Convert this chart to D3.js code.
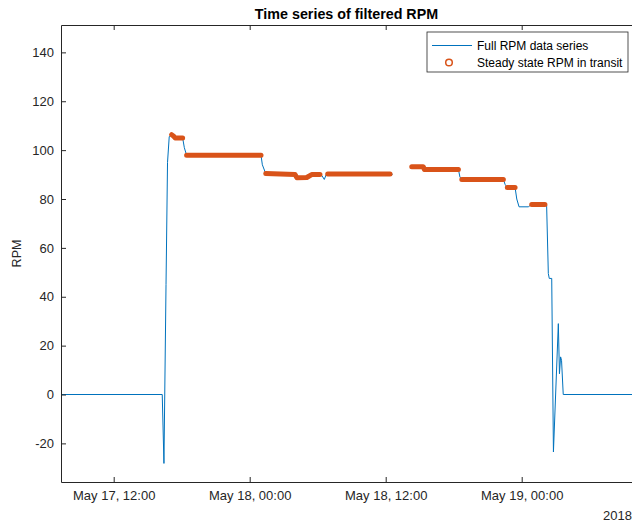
<!DOCTYPE html>
<html>
<head>
<meta charset="utf-8">
<script src="https://cdn.jsdelivr.net/npm/d3@7"></script>
<style>
body { margin: 0; background: #fff; }
svg { font-family: "Liberation Sans", Arial, sans-serif; }
</style>
</head>
<body>
<svg id="chart" width="632" height="523"></svg>
<script>
// full RPM data series (null = no data logged)
var rpmTimes = [
	"2018-05-17 07:21", "2018-05-17 16:17", "2018-05-17 16:26", "2018-05-17 16:37", "2018-05-17 16:45",
	"2018-05-17 16:54", "2018-05-17 17:07", "2018-05-17 17:18", "2018-05-17 17:25", "2018-05-17 18:05",
	"2018-05-17 18:14", "2018-05-17 18:26", "2018-05-18 01:00", "2018-05-18 01:07", "2018-05-18 01:25",
	"2018-05-18 04:00", "2018-05-18 04:10", "2018-05-18 05:02", "2018-05-18 05:28", "2018-05-18 06:12",
	"2018-05-18 06:22", "2018-05-18 06:35", "2018-05-18 06:45", "2018-05-18 06:53", "2018-05-18 12:23",
	"2018-05-18 12:37", "2018-05-18 13:30", "2018-05-18 14:18", "2018-05-18 15:19", "2018-05-18 15:25",
	"2018-05-18 18:25", "2018-05-18 18:33", "2018-05-18 18:43", "2018-05-18 22:23", "2018-05-18 22:32",
	"2018-05-18 22:44", "2018-05-18 23:25", "2018-05-18 23:34", "2018-05-18 23:46", "2018-05-19 00:35",
	"2018-05-19 00:53", "2018-05-19 02:03", "2018-05-19 02:12", "2018-05-19 02:21", "2018-05-19 02:26",
	"2018-05-19 02:39", "2018-05-19 02:48", "2018-05-19 03:14", "2018-05-19 03:20", "2018-05-19 03:26",
	"2018-05-19 03:31", "2018-05-19 03:40", "2018-05-19 09:44"
];
var rpmValues = [
	0, 0, -28.2, 45, 95,
	105.5, 106.3, 105.6, 105, 105,
	101, 97.9, 97.9, 94, 90.4,
	90, 88.7, 88.8, 90, 90,
	89.6, 88, 90, 90.2, 90.2,
	90.1, null, 93.2, 93.2, 92.1,
	92.1, 89, 88, 88, 86,
	84.7, 84.7, 80, 76.8, 76.8,
	77.8, 77.8, 77.5, 49.5, 47.5,
	47.5, -23.5, 29, 8.5, 15.4,
	14, 0, 0
];

// steady state RPM in transit (null separates stretches)
var steadyTimes = [
	"2018-05-17 17:07", "2018-05-17 17:16", "2018-05-17 17:25", "2018-05-17 18:05", null,
	"2018-05-17 18:26", "2018-05-18 01:00", null,
	"2018-05-18 01:25", "2018-05-18 04:00", "2018-05-18 04:10", "2018-05-18 05:02", "2018-05-18 05:28", "2018-05-18 06:12", null,
	"2018-05-18 06:53", "2018-05-18 12:23", null,
	"2018-05-18 14:18", "2018-05-18 15:19", "2018-05-18 15:25", "2018-05-18 18:25", null,
	"2018-05-18 18:43", "2018-05-18 22:23", null,
	"2018-05-18 22:44", "2018-05-18 23:25", null,
	"2018-05-19 00:53", "2018-05-19 02:03"
];
var steadyValues = [
	106.3, 105.8, 105, 105, null,
	97.9, 97.9, null,
	90.4, 90, 88.7, 88.8, 90, 90, null,
	90.2, 90.2, null,
	93.2, 93.2, 92.1, 92.1, null,
	88, 88, null,
	84.7, 84.7, null,
	77.8, 77.8
];

var xTickTimes = ["2018-05-17 12:00", "2018-05-18 00:00", "2018-05-18 12:00", "2018-05-19 00:00"];
var yTickValues = [-20, 0, 20, 40, 60, 80, 100, 120, 140];
var xLimits = ["2018-05-17 07:21", "2018-05-19 09:44"];
var yLimits = [-35.8, 151.2];

var parseTime = d3.timeParse("%Y-%m-%d %H:%M");
var axisColor = "#262626";

var svg = d3.select("#chart"),
	margin = {top: 25, right: 0, bottom: 41, left: 61},
	width = +svg.attr("width") - margin.left - margin.right,
	height = +svg.attr("height") - margin.top - margin.bottom,
	g = svg.append("g").attr("transform", "translate(" + margin.left + "," + margin.top + ")");

var xScale = d3.scaleTime().domain(xLimits.map(parseTime)).range([0, width]),
	yScale = d3.scaleLinear().domain(yLimits).range([height, 0]);

var rpmData = rpmTimes.map(function(t, i) { return {date: parseTime(t), rpm: rpmValues[i]}; });
var steadyData = steadyTimes.map(function(t, i) { return {date: t ? parseTime(t) : null, rpm: steadyValues[i]}; });

var line = d3.line()
	.defined(function(d) { return d.rpm != null; })
	.x(function(d) { return xScale(d.date); })
	.y(function(d) { return yScale(d.rpm); });

g.append("path")
	.datum(rpmData)
	.attr("fill", "none")
	.attr("stroke", "#0072BD")
	.attr("stroke-width", 1)
	.attr("d", line);

// markers sit so close together that they form a solid band
g.append("path")
	.datum(steadyData)
	.attr("fill", "none")
	.attr("stroke", "#D95319")
	.attr("stroke-width", 5)
	.attr("stroke-linecap", "round")
	.attr("stroke-linejoin", "round")
	.attr("d", line);

var xTicks = xTickTimes.map(parseTime);

g.append("g")
	.attr("class", "axis axis--x")
	.attr("transform", "translate(0," + height + ")")
	.call(d3.axisBottom(xScale).tickValues(xTicks).tickSizeInner(-5).tickSizeOuter(0).tickPadding(9)
		.tickFormat(function(d) {
			return d3.timeFormat("%b ")(d) + (+d3.timeFormat("%d")(d)) + d3.timeFormat(", %H:%M")(d);
		}));

g.append("g")
	.attr("class", "axis axis--top")
	.call(d3.axisTop(xScale).tickValues(xTicks).tickSizeInner(-5).tickSizeOuter(0).tickFormat(""));

g.append("g")
	.attr("class", "axis axis--y")
	.call(d3.axisLeft(yScale).tickValues(yTickValues).tickSizeInner(-5).tickSizeOuter(0).tickPadding(7)
		.tickFormat(function(d) { return String(d); }));

g.selectAll(".axis path, .axis line").attr("stroke", axisColor);
g.selectAll(".axis text").attr("fill", axisColor).style("font-size", "13px");

svg.append("text")
	.attr("x", margin.left + width)
	.attr("y", 520)
	.attr("text-anchor", "end")
	.attr("fill", axisColor)
	.style("font-size", "13px")
	.text("2018");

svg.append("text")
	.attr("transform", "translate(21," + (margin.top + height / 2) + ") rotate(-90)")
	.attr("text-anchor", "middle")
	.attr("fill", axisColor)
	.style("font-size", "12.5px")
	.text("RPM");

svg.append("text")
	.attr("x", margin.left + width / 2)
	.attr("y", 19)
	.attr("text-anchor", "middle")
	.attr("fill", "#000")
	.style("font-size", "14.3px")
	.style("font-weight", "bold")
	.text("Time series of filtered RPM");

// legend
var legend = svg.append("g").attr("transform", "translate(427,32)");
legend.append("rect")
	.attr("width", 201).attr("height", 40)
	.attr("fill", "#fff").attr("stroke", axisColor).attr("stroke-width", 0.8);
legend.append("line")
	.attr("x1", 5).attr("x2", 45).attr("y1", 13.5).attr("y2", 13.5)
	.attr("stroke", "#0072BD").attr("stroke-width", 1);
legend.append("circle")
	.attr("cx", 22).attr("cy", 30.5).attr("r", 3.3)
	.attr("fill", "none").attr("stroke", "#D95319").attr("stroke-width", 1.5);
legend.append("text").attr("x", 50).attr("y", 18).attr("fill", "#000").style("font-size", "12px").text("Full RPM data series");
legend.append("text").attr("x", 50).attr("y", 34.5).attr("fill", "#000").style("font-size", "12px").text("Steady state RPM in transit");
</script>
</body>
</html>
